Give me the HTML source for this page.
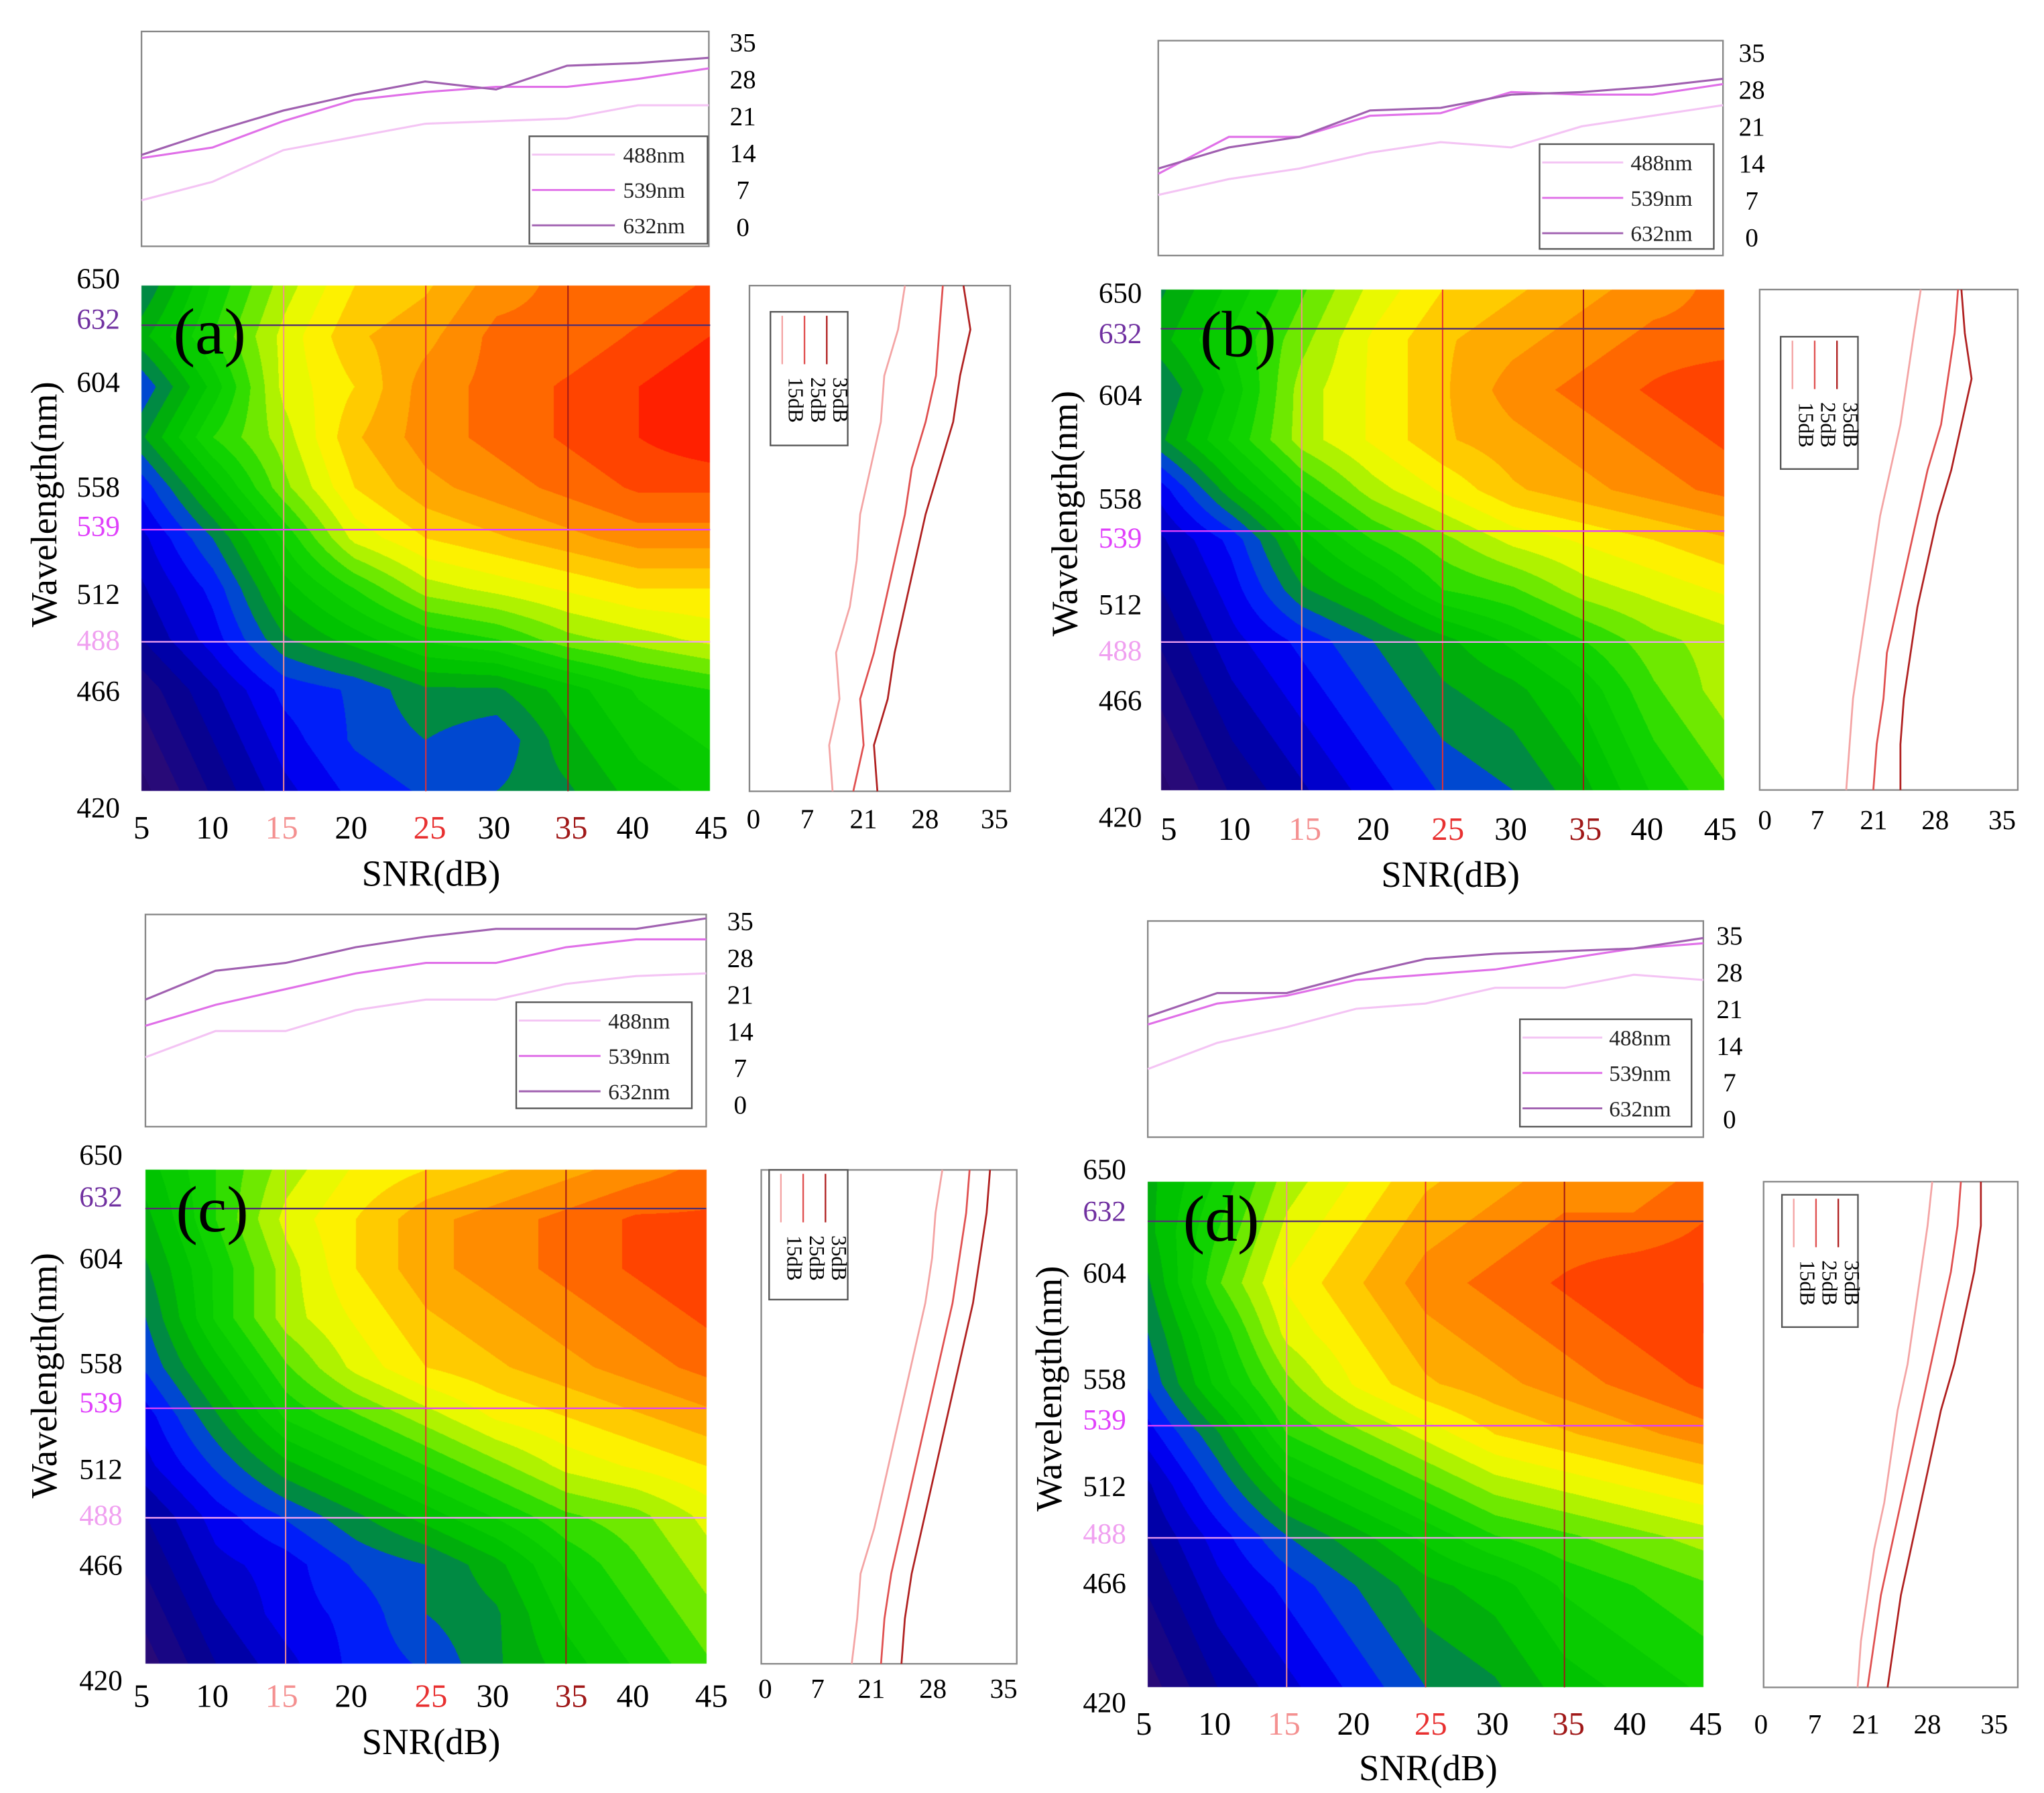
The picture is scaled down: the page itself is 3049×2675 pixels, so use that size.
<!DOCTYPE html>
<html><head><meta charset="utf-8">
<style>
html,body{margin:0;padding:0;background:#fff;}
#wrap{position:relative;width:3049px;height:2675px;overflow:hidden;}
canvas,svg{position:absolute;left:0;top:0;}
svg text{font-family:"Liberation Serif",serif;}
</style></head>
<body>
<div id="wrap">
<canvas id="cv" width="3049" height="2675"></canvas>
<svg id="sv" width="3049" height="2675" viewBox="0 0 1560 1368.6"></svg>
</div>
<script>
// ===== Data =====
const snrCats = [5,10,15,20,25,30,35,40,45];
const waveRows = [650,627,604,581,558,535,512,489,466,443,420];
const wlTicks = [650,632,604,558,539,512,488,466,420];
const snrTicks = [5,10,15,20,25,30,35,40,45];
const topTicks = [35,28,21,14,7,0];
const sideTickLabels = ["0","7","21","28","35"];
const sideTickVals = [0,7.6,15.7,24.6,34.5];
const sideWave = [420,441,462,483,504,525,546,567,588,609,630,650];

const heatA = [
[15,20,24,27,28,30,31,31,32],
[17,21,25,28,29,31,31,32,33],
[14,19,25,27,30,31,32,33,34],
[16,21,24,28,30,31,32,33,34],
[13,18,23,27,29,30,31,32,32],
[11,15,20,25,27,28,29,30,30],
[10,13,18,21,24,25,26,27,27],
[9,12,16,18,20,21,23,24,25],
[7,10,13,14,16,16,18,20,21],
[6,9,12,14,15,14,17,19,20],
[5,8,11,13,14,15,16,18,19]];
const heatB = [
[16,19,22,25,27,28,29,30,31],
[17,20,23,26,28,29,30,31,31],
[15,19,24,26,28,30,31,32,33],
[16,20,24,26,28,29,30,31,32],
[12,17,21,24,26,28,29,30,31],
[10,13,18,21,23,25,26,27,28],
[9,12,16,18,21,22,24,25,26],
[8,11,13,15,17,19,21,23,24],
[7,10,12,14,16,17,19,22,24],
[6,9,11,13,15,16,18,21,23],
[5,8,10,12,14,15,17,20,22]];
const heatC = [
[18,21,24,26,27,28,29,30,31],
[17,21,25,27,29,30,31,32,32],
[16,20,24,27,29,30,31,32,33],
[15,20,24,26,28,29,30,31,32],
[14,18,22,25,27,28,29,30,31],
[12,16,20,22,24,26,27,28,29],
[11,14,17,19,21,23,25,26,27],
[9,12,14,16,18,20,22,23,25],
[8,11,12,14,15,17,20,22,24],
[7,10,12,13,15,16,19,21,23],
[6,9,11,13,14,16,18,20,22]];
const heatD = [
[17,20,24,26,28,29,30,30,31],
[17,21,25,27,29,30,31,31,32],
[16,22,26,28,30,31,32,33,33],
[15,20,25,27,29,30,31,32,33],
[14,19,23,26,28,29,30,31,32],
[12,16,21,23,25,27,28,29,30],
[10,14,18,20,22,24,25,26,27],
[9,12,15,17,19,21,22,23,24],
[8,11,13,15,17,18,20,21,22],
[7,10,12,14,16,17,19,20,21],
[6,9,11,13,15,16,18,19,20]];

const topA488=[5,8.5,14.5,17,19.5,20,20.5,23,23];
const topA539=[13,15,20,24,25.5,26.5,26.5,28,30];
const topA632=[13.6,18,22,25,27.5,26,30.5,31,32];
const topB488=[8,11,13,16,18,17,21,23,25];
const topB539=[12,19,19,23,23.5,27.5,27,27,29];
const topB632=[13,17,19,24,24.5,27,27.5,28.5,30];
const topC488=[9,14,14,18,20,20,23,24.5,25];
const topC539=[15,19,22,25,27,27,30,31.5,31.5];
const topC632=[20,25.5,27,30,32,33.5,33.5,33.5,35.5];
const topD488=[9.5,14.5,17.5,21,22,25,25,27.5,26.5];
const topD539=[18,22,23.5,26.5,27.5,28.5,30.5,32.5,33.5];
const topD632=[19.5,24,24,27.5,30.5,31.5,32,32.5,34.5];

const sideA15=[11.5,11,12.5,12,14,15,15.5,17,18.5,19,21,22];
const sideA25=[14.5,16,15.5,17.5,19,20.5,22,23,25,26.5,27,27.5];
const sideA35=[18,17.5,19.5,20.5,22,23.5,25,27,29,30,31.5,30.5];
const sideB15=[12,12.5,13,14,15,16,17,18.5,20,21,22,23];
const sideB25=[16,16.5,17.5,18,19.5,21,22.5,24,26,27,28,28.5];
const sideB35=[20,20,20.5,21.5,22.5,24,25.5,27.5,29,30.5,29.5,29];
const sideC15=[12.7,13.5,14,16,17.5,19,20.5,22,23.5,24.5,25,26];
const sideC25=[17,17.5,18.5,20,21.5,23,24.5,26,27.5,28.5,29.5,30];
const sideC35=[20,20.5,21.5,23,24.5,26,27.5,29,30.5,31.5,32.5,33];
const sideD15=[14.5,15,16,17,18.5,19.5,20.5,22,23,24,25,25.7];
const sideD25=[16,17,18,19.5,21,22.5,24,25.5,27,28.5,29.5,30];
const sideD35=[19,20,21,22.5,24,25.5,27,29,30.5,32,33,33];

// ===== Layout =====
const panels=[
 {id:'a',heat:heatA,t:[topA488,topA539,topA632],s:[sideA15,sideA25,sideA35],
  top:{x:108,y:24,w:433,h:164,lx:567,y35:32,y0:173},tl:{x:404,y:104,w:136,h:82},
  hm:{x:108,y:218,w:434,h:386},ylx:75,ylab:{650:212,632:243,604:291,558:371,539:401,512:453,488:488,466:527,420:616},
  xly:631,xlx:[108,162,215,268,328,377,436,483,543],snr:[329,666],ytitle:[33,385],
  side:{x:572,y:218,w:199,h:386,ty:624,tx:[575,616,659,706,759]},sl:{x:588,y:238,w:59,h:102},lab:[160,270]},
 {id:'b',heat:heatB,t:[topB488,topB539,topB632],s:[sideB15,sideB25,sideB35],
  top:{x:884,y:31,w:431,h:164,lx:1337,y35:40,y0:181},tl:{x:1175,y:110,w:133,h:80},
  hm:{x:886,y:221,w:430,h:382},ylx:855,ylab:{650:223,632:254,604:301,558:380,539:410,512:461,488:496,466:534,420:623},
  xly:632,xlx:[892,942,996,1048,1105,1153,1210,1257,1313],snr:[1107,667],ytitle:[812,392],
  side:{x:1343,y:221,w:197,h:382,ty:625,tx:[1347,1387,1430,1477,1528]},sl:{x:1359,y:257,w:59,h:101},lab:[945,272]},
 {id:'c',heat:heatC,t:[topC488,topC539,topC632],s:[sideC15,sideC25,sideC35],
  top:{x:111,y:698,w:428,h:162,lx:565,y35:703,y0:843},tl:{x:394,y:765,w:134,h:81},
  hm:{x:111,y:893,w:428,h:377},ylx:77,ylab:{650:881,632:913,604:960,558:1040,539:1070,512:1121,488:1156,466:1194,420:1282},
  xly:1294,xlx:[108,162,215,268,329,376,436,483,543],snr:[329,1329],ytitle:[33,1050],
  side:{x:581,y:893,w:195,h:377,ty:1288,tx:[584,624,665,712,766]},sl:{x:587,y:893,w:60,h:99},lab:[162,940]},
 {id:'d',heat:heatD,t:[topD488,topD539,topD632],s:[sideD15,sideD25,sideD35],
  top:{x:876,y:703,w:424,h:165,lx:1320,y35:714,y0:854},tl:{x:1160,y:778,w:131,h:82},
  hm:{x:876,y:902,w:424,h:386},ylx:843,ylab:{650:892,632:924,604:971,558:1052,539:1083,512:1134,488:1170,466:1208,420:1299},
  xly:1315,xlx:[873,927,980,1033,1092,1139,1197,1244,1302],snr:[1090,1349],ytitle:[800,1060],
  side:{x:1346,y:902,w:194,h:386,ty:1315,tx:[1344,1385,1424,1471,1522]},sl:{x:1360,y:912,w:58,h:101},lab:[932,947]}
];

const S=3049/1560;
const svg=document.getElementById('sv');
const NS='http://www.w3.org/2000/svg';
function el(tag,attrs,parent,txt){const e=document.createElementNS(NS,tag);for(const k in attrs)e.setAttribute(k,attrs[k]);if(txt!==undefined)e.textContent=txt;(parent||svg).appendChild(e);return e;}

// colormap
const stops=[[0,[30,0,70]],[6,[40,10,120]],[9,[0,0,150]],[12,[0,0,240]],[14,[0,50,255]],[16,[0,160,20]],[18,[0,195,0]],[21,[20,215,0]],[23,[120,235,0]],[25,[230,250,0]],[26.5,[255,240,0]],[28,[255,190,0]],[30,[255,140,0]],[32,[255,80,0]],[34,[255,20,0]],[40,[255,0,0]]];
function cmap(v){v=Math.round(v/1.2)*1.2;if(v<=stops[0][0])return stops[0][1];for(let i=1;i<stops.length;i++){if(v<=stops[i][0]){const a=stops[i-1],b=stops[i];const t=(v-a[0])/(b[0]-a[0]);return [0,1,2].map(k=>a[1][k]+(b[1][k]-a[1][k])*t);}}return stops[stops.length-1][1];}

const ctx=document.getElementById('cv').getContext('2d');
function drawHeat(p){
  const hm=p.hm,g=p.heat;const x0=Math.round(hm.x*S),y0=Math.round(hm.y*S),W=Math.round(hm.w*S),H=Math.round(hm.h*S);
  const img=ctx.createImageData(W,H);const nr=g.length,nc=g[0].length;
  for(let j=0;j<H;j++){
    const wl=650-(j/(H-1))*230;
    let fr=(650-wl)/230*(nr-1);const r0=Math.min(nr-2,Math.floor(fr));const tr=fr-r0;
    for(let i=0;i<W;i++){
      const snr=5+(i/(W-1))*40;let fc=(snr-5)/40*(nc-1);const c0=Math.min(nc-2,Math.floor(fc));const tc=fc-c0;
      const v=(g[r0][c0]*(1-tc)+g[r0][c0+1]*tc)*(1-tr)+(g[r0+1][c0]*(1-tc)+g[r0+1][c0+1]*tc)*tr;
      const c=cmap(v);const o=(j*W+i)*4;img.data[o]=c[0];img.data[o+1]=c[1];img.data[o+2]=c[2];img.data[o+3]=255;
    }
  }
  ctx.putImageData(img,x0,y0);
}

const lineCols=['#f4c4f4','#e070e8','#a060b0'];
const sideCols=['#f4a4a4','#e05050','#b02020'];
const wlCols={632:'#7030a0',539:'#e040fb',488:'#f0a0f0'};
const snrCols={15:'#f49090',25:'#e83030',35:'#a01818'};

panels.forEach(p=>{
  drawHeat(p);
  const g=el('g',{});
  const T=p.top;
  const tb=el('rect',{x:T.x,y:T.y,width:T.w,height:T.h,fill:'none',stroke:'#888','stroke-width':1.2},g);
  
  const tx=v=>T.x+(v-5)/40*T.w, ty=v=>T.y0-(v/35)*(T.y0-T.y35);
  p.t.forEach((ser,k)=>{
    const pl=el('polyline',{points:ser.map((v,i)=>tx(snrCats[i])+','+ty(v)).join(' '),fill:'none',stroke:lineCols[k],'stroke-width':1.6},g);
    
  });
  topTicks.forEach(v=>{const t=el('text',{x:T.lx,y:ty(v)+7,'font-size':20,'text-anchor':'middle'},g,String(v));});
  const L=p.tl;
  const lb=el('rect',{x:L.x,y:L.y,width:L.w,height:L.h,fill:'#fff',stroke:'#555','stroke-width':1.2},g);
  
  ['488nm','539nm','632nm'].forEach((n,k)=>{
    const yy=L.y+14+k*27;
    el('line',{x1:L.x+2,x2:L.x+L.w*0.48,y1:yy,y2:yy,stroke:lineCols[k],'stroke-width':1.5},g);
    const t=el('text',{x:L.x+L.w*0.7,y:yy+6,'font-size':17,'text-anchor':'middle',fill:'#222'},g,n);
    
  });
  const H=p.hm;const hx=v=>H.x+(v-5)/40*H.w, hy=w=>H.y+(650-w)/230*H.h;
  [15,25,35].forEach(s=>el('line',{x1:hx(s),x2:hx(s),y1:H.y,y2:H.y+H.h,stroke:snrCols[s],'stroke-width':1},g));
  [632,539,488].forEach(w=>el('line',{x1:H.x,x2:H.x+H.w,y1:hy(w),y2:hy(w),stroke:wlCols[w],'stroke-width':1.2},g));
  el('line',{x1:H.x,x2:H.x+H.w,y1:hy(632),y2:hy(632),stroke:'#333','stroke-width':0.8,opacity:0.6},g);
  wlTicks.forEach(w=>{const t=el('text',{x:p.ylx,y:p.ylab[w]+8,'font-size':22,'text-anchor':'middle',fill:wlCols[w]||'#000'},g,String(w));});
  snrTicks.forEach((s,i)=>{const t=el('text',{x:p.xlx[i],y:p.xly+9,'font-size':25,'text-anchor':'middle',fill:snrCols[s]||'#000'},g,String(s));});
  const xt=el('text',{x:p.snr[0],y:p.snr[1]+10,'font-size':28,'text-anchor':'middle'},g,'SNR(dB)');
  
  const yt=el('text',{x:p.ytitle[0],y:p.ytitle[1],'font-size':28,'text-anchor':'middle',transform:'rotate(-90 '+p.ytitle[0]+' '+p.ytitle[1]+') translate(0 10)'},g,'Wavelength(nm)');
  
  const pl=el('text',{x:p.lab[0],y:p.lab[1],'font-size':50,'text-anchor':'middle'},g,'('+p.id+')');
  
  const Sd=p.side;
  const sb=el('rect',{x:Sd.x,y:Sd.y,width:Sd.w,height:Sd.h,fill:'none',stroke:'#888','stroke-width':1.2},g);
  
  const sx=v=>Sd.tx[0]+v/35*(Sd.tx[4]-Sd.tx[0]), sy=w=>Sd.y+(650-w)/230*Sd.h;
  p.s.forEach((ser,k)=>{
    const l=el('polyline',{points:ser.map((v,i)=>sx(v)+','+sy(sideWave[i])).join(' '),fill:'none',stroke:sideCols[k],'stroke-width':1.4},g);
    
  });
  sideTickLabels.forEach((s,i)=>{const t=el('text',{x:Sd.tx[i],y:Sd.ty+8,'font-size':21,'text-anchor':'middle'},g,s);});
  const SL=p.sl;
  const slb=el('rect',{x:SL.x,y:SL.y,width:SL.w,height:SL.h,fill:'#fff',stroke:'#555','stroke-width':1.2},g);
  
  ['15dB','25dB','35dB'].forEach((n,k)=>{
    const xx=SL.x+9+k*17;
    el('line',{x1:xx,x2:xx,y1:SL.y+3,y2:SL.y+40,stroke:sideCols[k],'stroke-width':1.2},g);
    const t=el('text',{x:xx,y:SL.y+50,'font-size':16,transform:'rotate(90 '+xx+' '+(SL.y+50)+') translate(0 -5)'},g,n);
    
  });
});
</script>
</body></html>
